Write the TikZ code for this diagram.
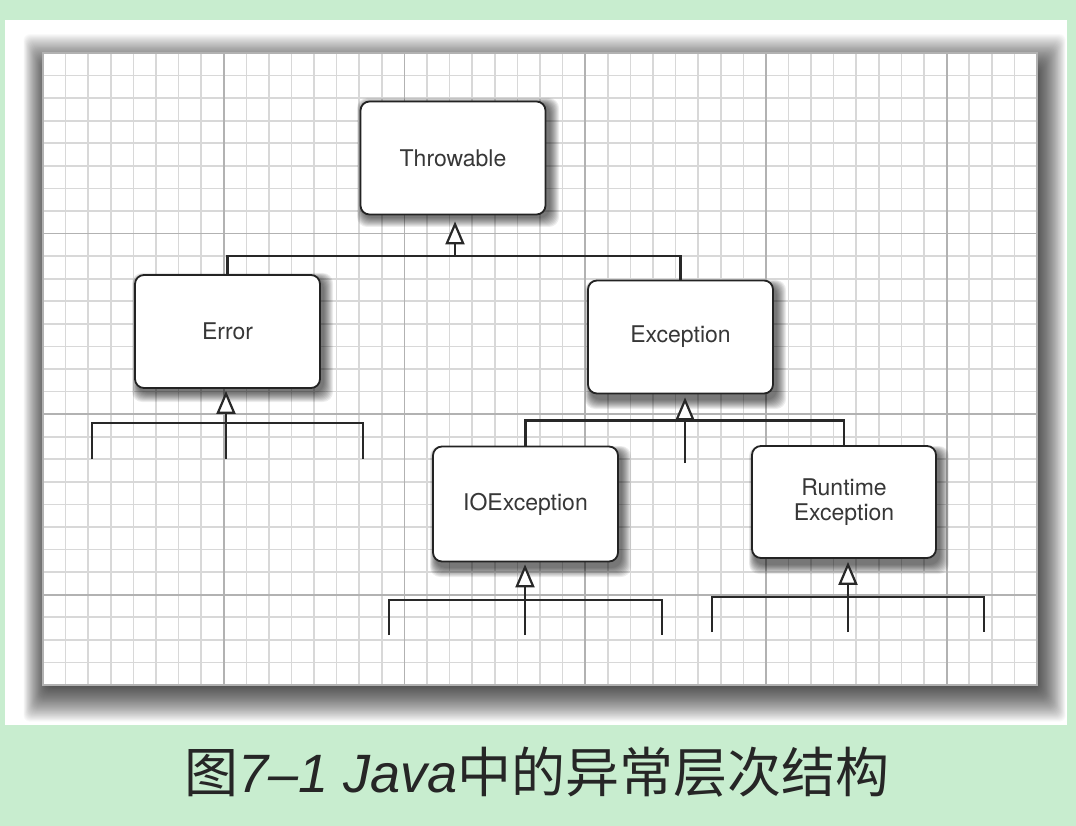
\documentclass[tikz,border=0pt]{standalone}
\usepackage{fontspec}
\setmainfont{TeX Gyre Heros}
\newfontfamily\cjk{Noto Sans CJK SC}
\newfontfamily\capl{Liberation Sans}
\usetikzlibrary{arrows.meta}
\definecolor{bggreen}{RGB}{200,237,207}
\definecolor{minorgrid}{RGB}{216,216,216}
\definecolor{majorgrid}{RGB}{178,178,178}
\definecolor{boxline}{RGB}{35,35,35}
\definecolor{txtgray}{RGB}{55,55,55}
\definecolor{linegray}{RGB}{40,40,40}
\newcommand\bshadow[4]{%
  \foreach \r in {1,...,10}{%
    \fill[black,opacity=0.07,rounded corners=10pt] (#1+3-\r*0.6,#2+4-\r*0.6) rectangle (#3+3+\r,#4+4+\r);}}
\tikzset{
  cls/.style={draw=boxline, line width=1.8pt, fill=white, rounded corners=9pt,
    minimum width=185pt, minimum height=113pt, inner sep=0pt,
    font=\fontsize{23}{25}\selectfont, text=txtgray, align=center},
  conn/.style={draw=linegray, line width=2.6pt},
  inh/.style={conn, -{Triangle[width=19pt,length=23pt,fill=white,line width=2.2pt]}},
  caption/.style={font=\fontsize{54}{60}\selectfont, text=black!85, inner sep=0pt}
}
\begin{document}
\begin{tikzpicture}[x=1pt,y=-1pt]
\useasboundingbox (0,0) rectangle (1076,826);
\fill[bggreen] (0,0) rectangle (1076,826);
\fill[white] (5,20) rectangle (1067,725);
% grid shadow (soft, offset down)
\foreach \r in {1,...,44}{%
  \fill[black,opacity=0.022,rounded corners=6pt] (50-\r*0.6,76-\r*0.95) rectangle (1034+\r*0.72,682+\r*0.9);}
% grid
\fill[white] (43,53) rectangle (1037,685);
\foreach \i in {1,...,43}{%
  \draw[minorgrid, line width=1.6pt] (43+\i*22.5909,53) -- (43+\i*22.5909,685);}
\foreach \j in {1,...,27}{%
  \draw[minorgrid, line width=1.6pt] (43,53+\j*22.5714) -- (1037,53+\j*22.5714);}
\foreach \i in {1,...,5}{%
  \draw[majorgrid, line width=1.8pt] (43+\i*180.727,53) -- (43+\i*180.727,685);}
\foreach \j in {1,...,3}{%
  \draw[majorgrid, line width=1.8pt] (43,53+\j*180.571) -- (1037,53+\j*180.571);}
\draw[majorgrid, line width=1.6pt] (43,53) rectangle (1037,685);
% box shadows
\bshadow{360}{100}{546}{213}
\bshadow{135}{275}{320}{388}
\bshadow{588}{282}{773}{395}
\bshadow{433}{448}{618}{563}
\bshadow{752}{448}{936}{560}
% classes
\node[cls] (thr) at (453,158) {Throwable};
\node[cls] (err) at (227.5,331.5) {Error};
\node[cls] (exc) at (680.5,337) {Exception};
\node[cls, minimum height=115pt] (ioe) at (525.5,504) {IOException};
\node[cls, minimum width=184pt, minimum height=112pt] (rte) at (844,502) {Runtime\\Exception};
% Throwable children
\draw[conn] (err.north) -- ++(0,-18) -| (exc.north);
\coordinate (tb) at (455,257);
\draw[inh, shorten >=6pt] (tb) -- (tb |- thr.south);
% Error fan
\coordinate (e1) at (92,459);
\coordinate (e2) at (363,459);
\coordinate (e3) at (226,459);
\draw[conn] (e1) -- ++(0,-36) -| (e2);
\draw[inh, shorten >=2pt] (e3) -- (e3 |- err.south);
% Exception children
\draw[conn] (ioe.north) -- ++(0,-25) -| (rte.north);
\coordinate (x3) at (685,463);
\draw[inh, shorten >=3pt] (x3) -- (x3 |- exc.south);
% IOException fan
\coordinate (i1) at (389,635);
\coordinate (i2) at (662,635);
\coordinate (i3) at (525,635);
\draw[conn] (i1) -- ++(0,-35) -| (i2);
\draw[inh, shorten >=2pt] (i3) -- (i3 |- ioe.south);
% RuntimeException fan
\coordinate (r1) at (712,632);
\coordinate (r2) at (984,632);
\coordinate (r3) at (848,632);
\draw[conn] (r1) -- ++(0,-35) -| (r2);
\draw[inh, shorten >=3pt] (r3) -- (r3 |- rte.south);
% caption
\node[caption] (cap) at (537,772) {\cjk 图\capl\itshape 7–1 Java\cjk\upshape 中的异常层次结构};
\end{tikzpicture}
\end{document}
